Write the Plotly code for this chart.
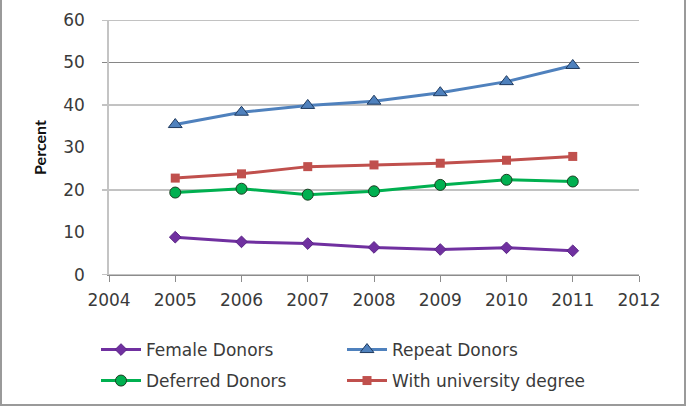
import plotly.graph_objects as go

years = [2005, 2006, 2007, 2008, 2009, 2010, 2011]
female_donors = [8.9, 7.8, 7.4, 6.5, 6.0, 6.4, 5.7]
repeat_donors = [35.4, 38.3, 39.9, 40.9, 42.9, 45.5, 49.3]
deferred_donors = [19.4, 20.3, 18.9, 19.7, 21.2, 22.4, 22.0]
university_degree = [22.8, 23.8, 25.5, 25.9, 26.3, 27.0, 27.9]

y_ticks = [0, 10, 20, 30, 40, 50, 60]
grid_levels = [0, 20, 40, 50, 60]
x_ticks = [2004, 2005, 2006, 2007, 2008, 2009, 2010, 2011, 2012]

FONT = "DejaVu Sans"
TXT = "#3a3a3a"

fig = go.Figure()
fig.add_trace(go.Scatter(
    x=years, y=female_donors, name="Female Donors", mode="lines+markers",
    line=dict(color="#7030A0", width=3),
    marker=dict(symbol="diamond", size=9, color="#7030A0", line=dict(color="#5a2585", width=1)),
    legend="legend"))
fig.add_trace(go.Scatter(
    x=years, y=repeat_donors, name="Repeat Donors", mode="lines+markers",
    line=dict(color="#4F81BD", width=3),
    marker=dict(symbol="triangle-up", size=12, color="#4F81BD", line=dict(color="#1f3a5f", width=1)),
    legend="legend"))
fig.add_trace(go.Scatter(
    x=years, y=deferred_donors, name="Deferred Donors", mode="lines+markers",
    line=dict(color="#00B050", width=3),
    marker=dict(symbol="circle", size=11, color="#00B050", line=dict(color="#1a3d20", width=1)),
    legend="legend2"))
fig.add_trace(go.Scatter(
    x=years, y=university_degree, name="With university degree", mode="lines+markers",
    line=dict(color="#C0504D", width=3),
    marker=dict(symbol="square", size=9, color="#C0504D", line=dict(color="#C0504D", width=0)),
    legend="legend2"))

L, R, T, B = 109, 47, 20, 131
W, H = 686, 406
pw, ph = W - L - R, H - T - B

def px(x):
    return (x - L) / pw

def py(y):
    return (H - B - y) / ph

legend_common = dict(
    orientation="h", xanchor="left", yanchor="middle",
    xref="container", yref="container",
    font=dict(family=FONT, size=17, color=TXT),
    entrywidth=191, entrywidthmode="pixels", itemwidth=40,
    bgcolor="rgba(0,0,0,0)", tracegroupgap=0,
)

shapes = [
    dict(type="line", xref="paper", yref="y", x0=px(102), x1=1, y0=g, y1=g,
         line=dict(color="#868686", width=1), layer="below")
    for g in grid_levels
]
shapes += [
    dict(type="line", xref="paper", yref="paper", x0=px(1), x1=px(1), y0=py(0), y1=py(405),
         line=dict(color="#9a9a9a", width=2)),
    dict(type="line", xref="paper", yref="paper", x0=px(685), x1=px(685), y0=py(0), y1=py(405),
         line=dict(color="#9a9a9a", width=2)),
    dict(type="line", xref="paper", yref="paper", x0=px(0), x1=px(686), y0=py(405), y1=py(405),
         line=dict(color="#9a9a9a", width=2)),
]

fig.update_layout(
    width=W, height=H,
    margin=dict(l=L, r=R, t=T, b=B, pad=0, autoexpand=False),
    paper_bgcolor="white", plot_bgcolor="white",
    font=dict(family=FONT, size=17, color=TXT),
    showlegend=True,
    legend=dict(x=96 / W, y=(H - 350) / H, **legend_common),
    legend2=dict(x=96 / W, y=(H - 381) / H, **legend_common),
    xaxis=dict(
        range=[2004, 2012], tickvals=x_ticks, ticktext=[str(v) for v in x_ticks],
        showgrid=False, zeroline=False, showline=True, linecolor="#8c8c8c", linewidth=1,
        ticks="outside", ticklen=6, tickcolor="#8c8c8c", ticklabelstandoff=4,
        tickfont=dict(family=FONT, size=17, color=TXT),
    ),
    yaxis=dict(
        range=[0, 60], tickvals=y_ticks, ticktext=[str(v) for v in y_ticks],
        showgrid=False, zeroline=False, showline=True, linecolor="#c4c4c4", linewidth=1.5,
        ticks="", ticklabelstandoff=19,
        tickfont=dict(family=FONT, size=17, color=TXT),
        title=dict(text="<b>Percent</b>", font=dict(family="Lato", size=16, color="#111"), standoff=13),
    ),
    shapes=shapes,
)

fig.write_html("out.html", config={"displayModeBar": False},
               post_script="document.body.style.margin='0';document.body.style.overflow='hidden';")
